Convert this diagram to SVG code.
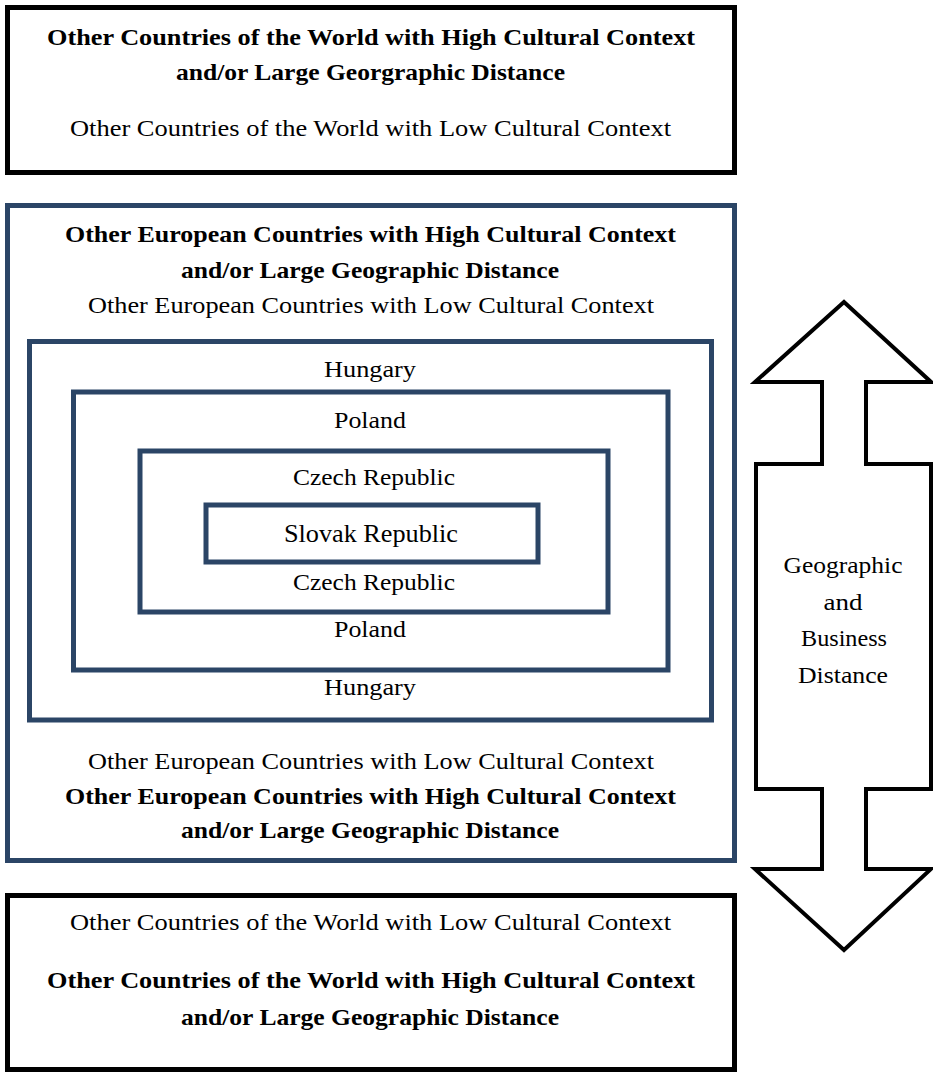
<svg xmlns="http://www.w3.org/2000/svg" width="933" height="1072" viewBox="0 0 933 1072">
<style>
.bk{fill:#fff;stroke:#000;stroke-width:5}
.bl{fill:#fff;stroke:#2b4566;stroke-width:5}
text{font-family:"Liberation Serif","DejaVu Serif",serif;fill:#000;text-anchor:middle}
.b{font-weight:bold;font-size:24px}
.n{font-size:23px}
</style>
<rect width="933" height="1072" fill="#fff"/>
<g id="world-top">
<rect class="bk" x="7.5" y="7.5" width="727" height="165"/>
<text class="b" x="371" y="45" textLength="648" lengthAdjust="spacingAndGlyphs">Other Countries of the World with High Cultural Context</text>
<text class="b" x="370.5" y="80" textLength="389" lengthAdjust="spacingAndGlyphs">and/or Large Georgraphic Distance</text>
<text class="n" x="370.5" y="136" textLength="601" lengthAdjust="spacingAndGlyphs">Other Countries of the World with Low Cultural Context</text>
</g>
<g id="europe">
<rect class="bl" x="7.5" y="205.5" width="727" height="655"/>
<text class="b" x="370.5" y="242" textLength="611" lengthAdjust="spacingAndGlyphs">Other European Countries with High Cultural Context</text>
<text class="b" x="370" y="278" textLength="378" lengthAdjust="spacingAndGlyphs">and/or Large Geographic Distance</text>
<text class="n" x="371" y="313" textLength="566" lengthAdjust="spacingAndGlyphs">Other European Countries with Low Cultural Context</text>
<text class="n" x="371" y="769" textLength="566" lengthAdjust="spacingAndGlyphs">Other European Countries with Low Cultural Context</text>
<text class="b" x="370.5" y="804" textLength="611" lengthAdjust="spacingAndGlyphs">Other European Countries with High Cultural Context</text>
<text class="b" x="370" y="838" textLength="378" lengthAdjust="spacingAndGlyphs">and/or Large Geographic Distance</text>
</g>
<g id="hungary">
<rect class="bl" x="29.5" y="341.5" width="682" height="378.5"/>
<text class="n" x="370" y="377" textLength="92" lengthAdjust="spacingAndGlyphs">Hungary</text>
<text class="n" x="370" y="695" textLength="92" lengthAdjust="spacingAndGlyphs">Hungary</text>
</g>
<g id="poland">
<rect class="bl" x="73.5" y="392" width="594.5" height="278"/>
<text class="n" x="370" y="428" textLength="72" lengthAdjust="spacingAndGlyphs">Poland</text>
<text class="n" x="370" y="637" textLength="72" lengthAdjust="spacingAndGlyphs">Poland</text>
</g>
<g id="czech">
<rect class="bl" x="140" y="451" width="468" height="161"/>
<text class="n" x="374" y="485" textLength="162" lengthAdjust="spacingAndGlyphs">Czech Republic</text>
<text class="n" x="374" y="590" textLength="162" lengthAdjust="spacingAndGlyphs">Czech Republic</text>
</g>
<g id="slovakia">
<rect class="bl" x="206" y="505" width="332" height="57"/>
<text class="n" x="371" y="542" style="font-size:25px" textLength="174" lengthAdjust="spacingAndGlyphs">Slovak Republic</text>
</g>
<g id="world-bottom">
<rect class="bk" x="7.5" y="895.5" width="727" height="174"/>
<text class="n" x="370.5" y="930" textLength="601" lengthAdjust="spacingAndGlyphs">Other Countries of the World with Low Cultural Context</text>
<text class="b" x="371" y="988" textLength="648" lengthAdjust="spacingAndGlyphs">Other Countries of the World with High Cultural Context</text>
<text class="b" x="370" y="1025" textLength="378" lengthAdjust="spacingAndGlyphs">and/or Large Geographic Distance</text>
</g>
<g id="connectors">
<g id="distance-arrow">
<path d="M844,302 L931,382 L866,382 L866,464 L931,464 L931,789 L866,789 L866,869 L931,869 L844,950 L755,869 L822,869 L822,789 L756,789 L756,464 L822,464 L822,382 L755,382 Z" fill="#fff" stroke="#000" stroke-width="4" stroke-linejoin="miter"/>
<text class="n" x="843" y="573" textLength="119" lengthAdjust="spacingAndGlyphs">Geographic</text>
<text class="n" x="843" y="610" textLength="39" lengthAdjust="spacingAndGlyphs">and</text>
<text class="n" x="844" y="646" textLength="86" lengthAdjust="spacingAndGlyphs">Business</text>
<text class="n" x="843" y="683" textLength="90" lengthAdjust="spacingAndGlyphs">Distance</text>
</g>
</g>
</svg>
